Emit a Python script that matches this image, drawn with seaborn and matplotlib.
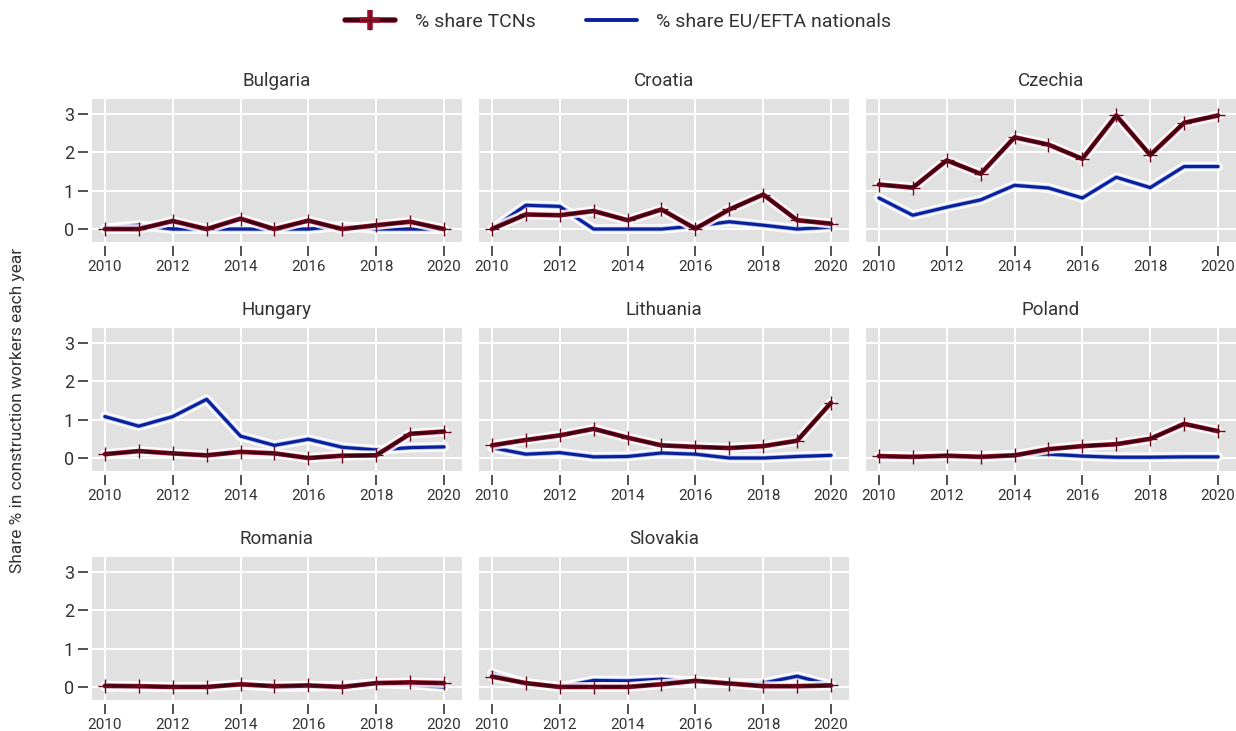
import numpy as np
import pandas as pd
import seaborn as sns
import matplotlib
matplotlib.use("Agg")
import matplotlib.pyplot as plt
import matplotlib.patheffects as pe
from matplotlib.lines import Line2D

years = list(range(2010, 2021))
countries = ["Bulgaria", "Croatia", "Czechia", "Hungary", "Lithuania",
             "Poland", "Romania", "Slovakia"]

bulgaria_tcn = [0.0, 0.0, 0.21, 0.0, 0.27, 0.0, 0.22, 0.0, 0.10, 0.19, 0.0]
bulgaria_eu = [0.02, 0.10, 0.0, 0.0, 0.0, 0.0, 0.0, 0.08, 0.0, 0.0, 0.0]
croatia_tcn = [0.0, 0.38, 0.36, 0.47, 0.23, 0.51, 0.01, 0.51, 0.90, 0.23, 0.14]
croatia_eu = [0.0, 0.62, 0.59, 0.0, 0.0, 0.0, 0.08, 0.19, 0.10, 0.0, 0.05]
czechia_tcn = [1.16, 1.08, 1.79, 1.44, 2.39, 2.20, 1.83, 2.96, 1.93, 2.77, 2.96]
czechia_eu = [0.81, 0.36, 0.57, 0.76, 1.14, 1.07, 0.81, 1.35, 1.08, 1.63, 1.63]
hungary_tcn = [0.10, 0.18, 0.12, 0.07, 0.16, 0.12, 0.0, 0.06, 0.07, 0.63, 0.69]
hungary_eu = [1.08, 0.83, 1.08, 1.53, 0.57, 0.33, 0.49, 0.28, 0.21, 0.27, 0.29]
lithuania_tcn = [0.33, 0.47, 0.59, 0.76, 0.53, 0.33, 0.29, 0.26, 0.31, 0.45, 1.44]
lithuania_eu = [0.27, 0.10, 0.14, 0.03, 0.04, 0.13, 0.10, 0.0, 0.0, 0.04, 0.07]
poland_tcn = [0.05, 0.03, 0.06, 0.03, 0.07, 0.23, 0.31, 0.36, 0.50, 0.89, 0.70]
poland_eu = [0.04, 0.04, 0.05, 0.05, 0.09, 0.10, 0.05, 0.02, 0.02, 0.03, 0.03]
romania_tcn = [0.03, 0.02, 0.0, 0.0, 0.07, 0.02, 0.04, 0.0, 0.10, 0.12, 0.10]
romania_eu = [0.0, 0.0, 0.0, 0.0, 0.06, 0.0, 0.0, 0.04, 0.09, 0.06, 0.0]
slovakia_tcn = [0.27, 0.10, 0.0, 0.0, 0.0, 0.07, 0.16, 0.09, 0.02, 0.02, 0.04]
slovakia_eu = [0.36, 0.10, 0.0, 0.17, 0.16, 0.20, 0.14, 0.10, 0.10, 0.28, 0.05]

tcn_series = [bulgaria_tcn, croatia_tcn, czechia_tcn, hungary_tcn,
              lithuania_tcn, poland_tcn, romania_tcn, slovakia_tcn]
eu_series = [bulgaria_eu, croatia_eu, czechia_eu, hungary_eu,
             lithuania_eu, poland_eu, romania_eu, slovakia_eu]

x_ticks = [2010, 2012, 2014, 2016, 2018, 2020]
y_ticks = [0, 1, 2, 3]

label_tcn = "% share TCNs"
label_eu = "% share EU/EFTA nationals"
y_title = "Share % in construction workers each year"

rows = []
for c, t, e in zip(countries, tcn_series, eu_series):
    for yr, tv, ev in zip(years, t, e):
        rows.append({"country": c, "year": yr, "tcn": tv, "eu": ev})
df = pd.DataFrame(rows)

sns.set_theme(style="ticks")
plt.rcParams["font.family"] = ["Roboto", "DejaVu Sans"]
plt.rcParams["text.color"] = "#333333"
plt.rcParams["xtick.color"] = "#333333"
plt.rcParams["ytick.color"] = "#333333"

TCN_COLOR = "#3d0010"
TCN_EDGE = "#a0102c"
MARK_COLOR = "#6a0a1e"
EU_COLOR = "#0a1f9a"
EU_EDGE = "#2a55e0"

glow_tcn = [pe.Stroke(linewidth=7, foreground="white", alpha=0.85),
            pe.Stroke(linewidth=3.4, foreground=TCN_EDGE),
            pe.Normal()]
glow_eu = [pe.Stroke(linewidth=7, foreground="white", alpha=0.85),
           pe.Stroke(linewidth=3.2, foreground=EU_EDGE, alpha=0.5),
           pe.Normal()]

fig, axes = plt.subplots(3, 3, figsize=(12.36, 7.31), dpi=100)
fig.subplots_adjust(left=92 / 1236, right=1.0, top=1 - 99 / 731,
                    bottom=1 - 700 / 731, wspace=0.046, hspace=0.60)

for i, ax in enumerate(axes.flat):
    if i >= len(countries):
        ax.set_visible(False)
        continue
    c = countries[i]
    sub = df[df["country"] == c]
    ax.set_facecolor("#e1e1e1")
    ax.grid(True, color="white", linewidth=1.4)
    ax.set_axisbelow(True)
    sns.lineplot(data=sub, x="year", y="eu", ax=ax, color=EU_COLOR,
                 linewidth=2.2, path_effects=glow_eu, zorder=3)
    sns.lineplot(data=sub, x="year", y="tcn", ax=ax, color=TCN_COLOR,
                 linewidth=2.3, path_effects=glow_tcn, zorder=4)
    sns.scatterplot(data=sub, x="year", y="tcn", ax=ax, marker="+",
                    s=110, color=MARK_COLOR, linewidth=1.0, zorder=5)
    ax.set_xlim(2009.62, 2020.53)
    ax.set_ylim(-0.34, 3.39)
    ax.set_xticks(x_ticks)
    ax.set_xticklabels([str(v) for v in x_ticks], fontsize=8.5)
    ax.set_yticks(y_ticks)
    ax.set_title(c, fontsize=13.5, pad=9)
    ax.set_xlabel("")
    ax.set_ylabel("")
    for s in ax.spines.values():
        s.set_visible(False)
    ax.spines["bottom"].set_position(("outward", 3))
    ax.spines["left"].set_position(("outward", 3))
    ax.tick_params(axis="x", length=7, width=1.2, pad=3)
    if i % 3 == 0:
        ax.set_yticklabels([str(v) for v in y_ticks], fontsize=13)
        ax.tick_params(axis="y", length=7, width=1.2, pad=3)
    else:
        ax.tick_params(axis="y", length=0, labelleft=False)

fig.text(18 / 1236, 1 - 410 / 731, y_title, rotation=90, fontsize=12.5,
         ha="center", va="center")

handles = [
    Line2D([], [], color=TCN_COLOR, linewidth=2.8, marker="+",
           markersize=14, markeredgewidth=1.0, markeredgecolor=MARK_COLOR,
           path_effects=[pe.Stroke(linewidth=4, foreground=TCN_EDGE), pe.Normal()]),
    Line2D([], [], color=EU_COLOR, linewidth=2.8),
]
fig.legend(handles, [label_tcn, label_eu], loc="center",
           bbox_to_anchor=(0.5, 1 - 22 / 731), ncol=2, frameon=False,
           fontsize=14, handlelength=2.6, columnspacing=2.6,
           handletextpad=1.0)

fig.savefig("out.png", dpi=100)
